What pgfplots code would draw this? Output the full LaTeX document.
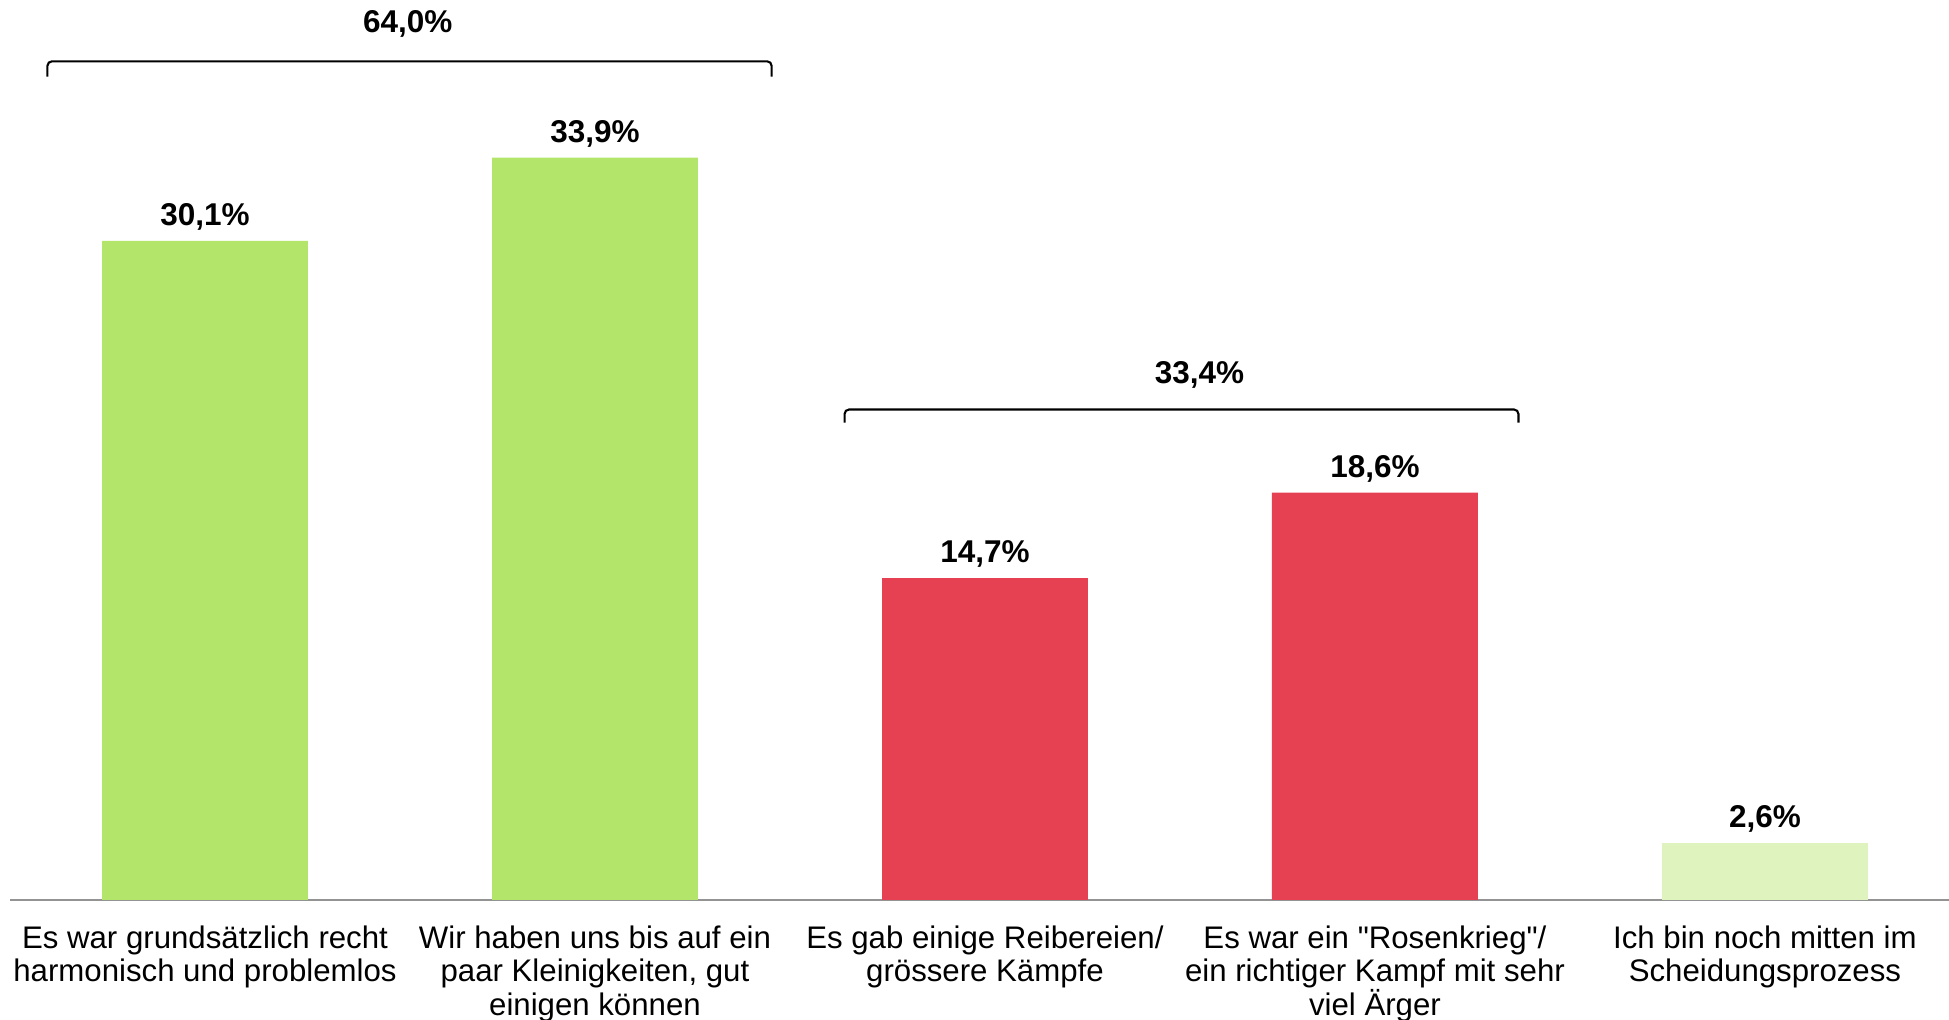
\documentclass[border=0pt]{standalone}
\usepackage{pgfplots}
\pgfplotsset{compat=1.18}
\usepackage{fontspec}
\setmainfont{Liberation Sans}
\definecolor{cgreen}{RGB}{179,229,107}
\definecolor{cred}{RGB}{229,65,82}
\definecolor{cpale}{RGB}{222,243,190}
\begin{document}
\begin{tikzpicture}
\begin{axis}[
  scale only axis,
  width=646.33pt, height=300pt,
  xmin=-0.5, xmax=4.472,
  ymin=0, ymax=41.1,
  ybar, bar width=0.528, bar shift=0pt,
  axis x line=bottom, axis y line=none,
  axis line style={-, draw=gray!85, line width=0.7pt},
  xtick={0,1,2,3,4},
  major tick length=0pt,
  xticklabels={{Es war grundsätzlich recht\\harmonisch und problemlos},
               {Wir haben uns bis auf ein\\paar Kleinigkeiten, gut\\einigen können},
               {Es gab einige Reibereien/\\grössere Kämpfe},
               {Es war ein \textquotedbl Rosenkrieg\textquotedbl/\\ein richtiger Kampf mit sehr\\viel Ärger},
               {Ich bin noch mitten im\\Scheidungsprozess}},
  xticklabel style={align=center, font=\fontsize{10.4}{11.2}\selectfont, yshift=-5pt},
  ytick=\empty,
  clip=false,
  nodes near coords={\pgfmathprintnumber[fixed,fixed zerofill,precision=1,use comma,assume math mode=true]{\pgfplotspointmeta}\%},
  nodes near coords style={font=\fontsize{10.5}{12}\selectfont\bfseries, black, yshift=0pt},
]
\addplot[fill=cgreen, draw=none] coordinates {(0,30.1) (1,33.9)};
\addplot[fill=cred, draw=none] coordinates {(2,14.7) (3,18.6)};
\addplot[fill=cpale, draw=none] coordinates {(4,2.6)};
\draw[black, line width=0.7pt, rounded corners=1.5pt] (axis cs:-0.404,37.6) -- (axis cs:-0.404,38.3) -- (axis cs:1.453,38.3) -- (axis cs:1.453,37.6);
\node[font=\fontsize{10.5}{12}\selectfont\bfseries] at (axis cs:0.52,40.0) {64,0\%};
\draw[black, line width=0.7pt, rounded corners=1.5pt] (axis cs:1.64,21.8) -- (axis cs:1.64,22.4) -- (axis cs:3.368,22.4) -- (axis cs:3.368,21.8);
\node[font=\fontsize{10.5}{12}\selectfont\bfseries] at (axis cs:2.55,24.0) {33,4\%};
\coordinate (BL) at (rel axis cs:0,0);
\coordinate (TR) at (rel axis cs:1,1);
\end{axis}
\pgfresetboundingbox
\path[use as bounding box] ([xshift=-3.333pt,yshift=-40pt]BL) rectangle (TR);
\end{tikzpicture}
\end{document}
